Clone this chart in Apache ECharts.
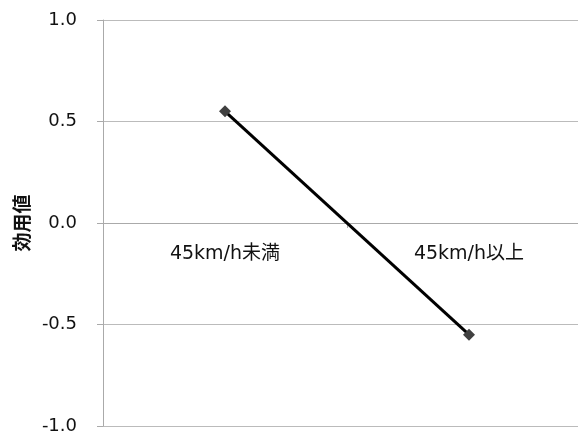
<!DOCTYPE html>
<html><head><meta charset="utf-8">
<script src="https://cdn.jsdelivr.net/npm/echarts@6/dist/echarts.min.js"></script>
<style>html,body{margin:0;padding:0;background:#fff}#c{width:578px;height:434px}</style>
</head><body><div id="c"></div>
<script>
const categories = ['45km/h未満', '45km/h以上'];
const utilityValues = [0.55, -0.55];
const yAxisName = '効用値';
const yTicks = { min: -1, max: 1, interval: 0.5 };

const chart = echarts.init(document.getElementById('c'));
const gridTop = 20, gridBottom = 8, H = 434;
// x axis crosses the value axis at 0: offset from bottom in pixels
const plotH = H - gridTop - gridBottom;
const zeroOffset = -plotH * (0 - yTicks.min) / (yTicks.max - yTicks.min);
chart.setOption({
  animation: false,
  grid: { left: 103, right: -13, top: gridTop, bottom: gridBottom, containLabel: false, outerBoundsMode: 'none' },
  xAxis: {
    type: 'category',
    data: categories,
    boundaryGap: true,
    position: 'bottom',
    offset: zeroOffset,
    axisLine: { show: true, onZero: false, lineStyle: { color: '#aaaaaa', width: 1 } },
    axisTick: { show: true, length: 5, lineStyle: { color: '#aaaaaa' } },
    axisLabel: { show: true, interval: 0, hideOverlap: false, margin: 22, fontSize: 19, color: '#111', fontFamily: '"DejaVu Sans", "Noto Sans CJK JP", sans-serif' }
  },
  yAxis: {
    type: 'value',
    min: yTicks.min, max: yTicks.max, interval: yTicks.interval,
    name: yAxisName,
    nameLocation: 'middle',
    nameGap: 68,
    nameRotate: 90,
    nameTextStyle: { fontSize: 19, fontWeight: 'bold', color: '#111', fontFamily: '"Noto Sans CJK JP", sans-serif' },
    axisLine: { show: true, lineStyle: { color: '#aaaaaa', width: 1 } },
    axisTick: { show: true, length: 6, inside: false, lineStyle: { color: '#aaaaaa' } },
    splitLine: { show: true, lineStyle: { color: '#bbbbbb', width: 1 } },
    axisLabel: {
      margin: 26, fontSize: 18, color: '#111',
      fontFamily: '"DejaVu Sans", sans-serif',
      formatter: v => v.toFixed(1)
    }
  },
  series: [{
    type: 'line',
    data: utilityValues,
    symbol: 'diamond',
    symbolSize: 12,
    itemStyle: { color: '#404040' },
    lineStyle: { color: '#000000', width: 3 }
  }]
});
</script></body></html>
